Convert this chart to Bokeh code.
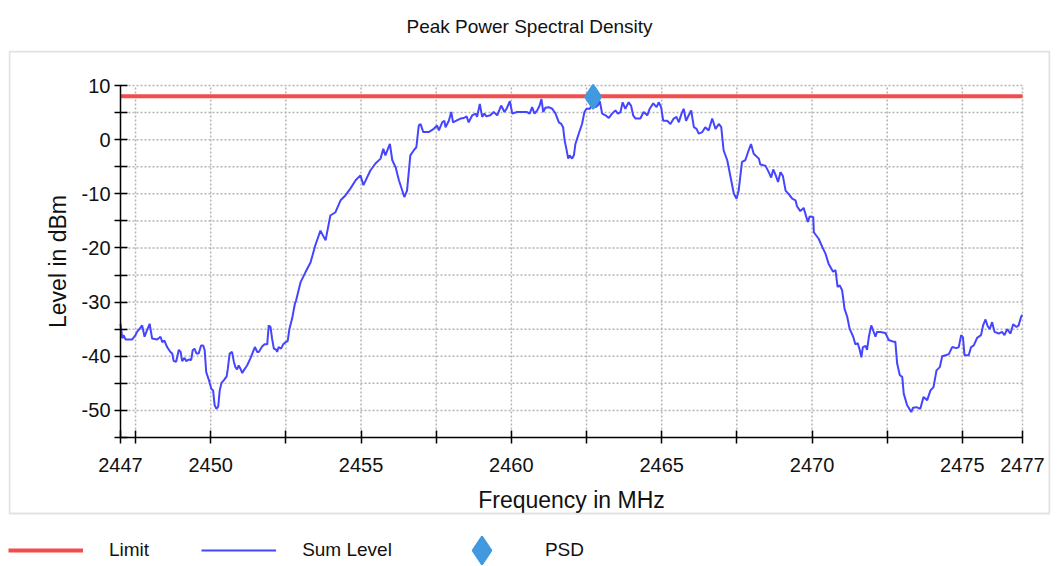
from bokeh.plotting import figure
from bokeh.models import Range1d, FixedTicker, Legend, LegendItem, BoxAnnotation
from bokeh.embed import file_html
from bokeh.resources import INLINE

# ---------------- data ----------------
freq_mhz = [
    2447.00, 2447.06, 2447.10, 2447.17, 2447.39, 2447.50, 2447.55, 2447.64, 2447.72, 2447.80,
    2447.86, 2447.97, 2448.05, 2448.22, 2448.33, 2448.39, 2448.46, 2448.55, 2448.66, 2448.72,
    2448.77, 2448.85, 2448.94, 2449.00, 2449.05, 2449.13, 2449.19, 2449.27, 2449.35, 2449.40,
    2449.46, 2449.53, 2449.60, 2449.68, 2449.75, 2449.80, 2449.85, 2449.94, 2450.02, 2450.08,
    2450.13, 2450.19, 2450.25, 2450.30, 2450.36, 2450.44, 2450.53, 2450.57, 2450.63, 2450.71,
    2450.77, 2450.82, 2450.88, 2450.93, 2450.99, 2451.05, 2451.10, 2451.21, 2451.32, 2451.47,
    2451.55, 2451.60, 2451.71, 2451.79, 2451.88, 2451.93, 2451.99, 2452.04, 2452.10, 2452.18,
    2452.21, 2452.26, 2452.34, 2452.41, 2452.49, 2452.56, 2452.62, 2452.71, 2452.80, 2452.84,
    2452.99, 2453.15, 2453.32, 2453.48, 2453.65, 2453.82, 2453.98, 2454.15, 2454.32, 2454.48,
    2454.65, 2454.82, 2454.98, 2455.08, 2455.31, 2455.48,
    2455.65, 2455.74, 2455.81, 2455.96, 2456.04, 2456.15, 2456.26, 2456.44, 2456.53, 2456.64,
    2456.75, 2456.84, 2456.92, 2456.98, 2457.07, 2457.25, 2457.42, 2457.53, 2457.59, 2457.70,
    2457.77, 2457.81, 2457.92, 2458.00, 2458.06, 2458.17, 2458.31, 2458.42, 2458.51, 2458.58,
    2458.70, 2458.81, 2458.86, 2458.95, 2459.03, 2459.10, 2459.17, 2459.30, 2459.41, 2459.53,
    2459.66, 2459.77, 2459.84, 2459.95, 2460.03, 2460.19, 2460.36, 2460.52, 2460.61, 2460.69,
    2460.77, 2460.86, 2460.94, 2461.00, 2461.06, 2461.13, 2461.24, 2461.36, 2461.47, 2461.58,
    2461.66, 2461.72, 2461.77, 2461.83, 2461.89, 2461.94, 2462.02, 2462.08, 2462.13, 2462.24,
    2462.35, 2462.43, 2462.50, 2462.61, 2462.69, 2462.80, 2462.87, 2462.94, 2463.02, 2463.13,
    2463.24, 2463.35, 2463.46, 2463.54, 2463.63, 2463.70, 2463.79, 2463.90, 2463.98, 2464.05,
    2464.13, 2464.29, 2464.40, 2464.52, 2464.60, 2464.72, 2464.83, 2464.90, 2464.98, 2465.05,
    2465.18, 2465.29, 2465.40, 2465.49, 2465.57, 2465.66, 2465.73, 2465.81, 2465.90, 2465.98,
    2466.07, 2466.16, 2466.23, 2466.35, 2466.45, 2466.56, 2466.68, 2466.79, 2466.90, 2466.98,
    2467.06, 2467.18, 2467.29, 2467.40, 2467.49, 2467.56, 2467.67, 2467.78, 2467.89, 2467.97,
    2468.06, 2468.23, 2468.28, 2468.45, 2468.56, 2468.64, 2468.71, 2468.78, 2468.87, 2468.95,
    2469.03, 2469.12, 2469.22, 2469.34, 2469.45, 2469.50, 2469.61, 2469.72, 2469.86, 2469.92,
    2470.04, 2470.06, 2470.22, 2470.34, 2470.45, 2470.55, 2470.70, 2470.78, 2470.85, 2470.92,
    2471.00, 2471.08, 2471.17, 2471.25, 2471.37, 2471.44, 2471.52, 2471.59, 2471.64, 2471.69,
    2471.78, 2471.83, 2471.89, 2471.97, 2472.03, 2472.11, 2472.16, 2472.27, 2472.44, 2472.55,
    2472.70, 2472.77, 2472.83, 2472.92, 2473.00, 2473.05, 2473.16, 2473.30, 2473.36, 2473.47,
    2473.60, 2473.71, 2473.83, 2473.94, 2474.04, 2474.14, 2474.25, 2474.33, 2474.44, 2474.55,
    2474.66, 2474.80, 2474.88, 2474.96, 2475.02, 2475.07, 2475.21, 2475.29, 2475.38, 2475.49,
    2475.62, 2475.69, 2475.77, 2475.84, 2475.91, 2475.99, 2476.07, 2476.21, 2476.32, 2476.40,
    2476.49, 2476.60, 2476.69, 2476.80, 2476.87, 2476.96, 2477.00,
]
sum_level_dbm = [
    -34.0, -36.7, -36.1, -36.9, -36.9, -36.1, -35.5, -34.9, -34.3, -36.4,
    -35.5, -34.0, -36.7, -36.9, -36.4, -37.4, -37.1, -38.3, -39.2, -39.5,
    -40.9, -41.0, -38.8, -39.2, -40.9, -40.3, -40.9, -40.6, -40.7, -38.9,
    -38.6, -39.5, -39.5, -38.0, -38.0, -38.9, -42.9, -44.4, -46.0, -46.3,
    -49.0, -49.7, -49.3, -46.3, -44.9, -44.4, -43.7, -42.3, -39.5, -39.2,
    -41.0, -42.0, -42.4, -41.7, -42.3, -43.1, -42.6, -41.7, -40.4, -38.3,
    -39.2, -39.2, -38.2, -37.8, -37.8, -34.3, -34.6, -36.7, -38.6, -38.8,
    -39.2, -38.3, -38.6, -37.8, -37.4, -37.2, -34.9, -33.0, -30.3, -29.7,
    -26.3, -24.5, -22.7, -19.5, -16.8, -18.6, -14.0, -13.4, -11.2, -10.3,
    -9.0, -7.5, -6.6, -8.4, -5.7, -4.4,
    -3.5, -1.7, -2.9, -0.8, -3.8, -5.1, -7.5, -10.6, -9.4, -2.9,
    -2.0, -1.4, 2.6, 2.9, 1.4, 1.4, 2.0, 2.6, 1.7, 3.2,
    3.5, 2.3, 3.5, 5.1, 3.2, 3.5, 3.9, 4.0, 4.3, 3.2,
    4.5, 4.8, 4.2, 6.6, 4.2, 4.8, 4.3, 4.5, 5.1, 4.5,
    6.3, 5.1, 5.7, 7.1, 4.8, 5.1, 5.1, 5.1, 4.8, 6.0,
    4.8, 5.4, 6.3, 7.5, 5.1, 5.9, 6.0, 5.7, 4.8, 3.2,
    2.9, 2.3, -0.1, -1.7, -3.5, -2.9, -3.5, -2.9, -0.8, 1.1,
    2.9, 5.1, 5.7, 5.7, 6.6, 6.0, 6.3, 7.1, 4.8, 4.5,
    4.0, 4.8, 5.4, 4.8, 5.1, 6.9, 5.7, 6.9, 6.3, 4.5,
    3.9, 3.9, 5.1, 4.5, 5.7, 6.7, 6.0, 6.9, 6.0, 3.5,
    3.5, 2.9, 3.9, 4.2, 3.2, 4.8, 5.7, 3.5, 4.5, 5.4,
    2.3, 2.0, 1.1, 1.4, 2.3, 1.7, 3.9, 2.0, 2.9, 2.3,
    -2.0, -3.8, -6.9, -10.0, -10.9, -9.4, -4.1, -3.8, -2.0, -0.8,
    -2.6, -3.5, -4.6, -4.8, -6.0, -7.0, -5.5, -6.4, -7.8, -6.0,
    -6.7, -9.4, -10.0, -10.9, -11.2, -12.3, -13.2, -12.6, -15.2, -14.2,
    -14.3, -17.1, -18.3, -19.8, -21.1, -22.9, -24.4, -24.1, -27.2, -26.9,
    -27.8, -31.2, -32.7, -34.9, -36.4, -37.8, -37.6, -38.9, -40.2, -38.3,
    -38.1, -38.8, -36.4, -34.3, -35.2, -36.4, -35.5, -35.5, -35.7, -37.0,
    -37.3, -37.3, -41.3, -43.5, -43.8, -46.9, -49.0, -50.3, -49.5, -49.4,
    -49.7, -47.5, -48.1, -46.3, -45.7, -42.6, -42.0, -40.0, -39.8, -39.6,
    -38.3, -38.5, -38.3, -36.1, -36.5, -39.8, -39.8, -38.3, -38.0, -36.6,
    -36.1, -34.3, -33.2, -34.4, -35.0, -33.7, -35.5, -35.8, -35.5, -36.1,
    -35.0, -35.8, -34.1, -34.6, -34.3, -32.6, -32.4,
]
limit_freq = [2447.0, 2477.0]
limit_dbm = [8.0, 8.0]
psd_freq = [2462.72]
psd_dbm = [7.9]

x_ticks = [2447, 2447.5, 2450, 2452.5, 2455, 2457.5, 2460, 2462.5, 2465,
           2467.5, 2470, 2472.5, 2475, 2477]
x_tick_labels = ["2447", "", "2450", "", "2455", "", "2460", "", "2465",
                 "", "2470", "", "2475", "2477"]
y_ticks = [-55, -50, -45, -40, -35, -30, -25, -20, -15, -10, -5, 0, 5, 10]
y_tick_labels = ["", "-50", "", "-40", "", "-30", "", "-20", "", "-10", "", "0", "", "10"]
x_min, x_max = 2447, 2477
y_min, y_max = -55, 10

title_text = "Peak Power Spectral Density"
x_title = "Frequency in MHz"
y_title = "Level in dBm"

# ---------------- layout / styles ----------------
FONT = "Liberation Sans"
RED = "#f44b4b"
BLUE = "#4545ff"
DIAMOND = "#4199e0"
GRID = "#b4b4b4"
TXT = "#111111"

FRAME_W, FRAME_H = 1042, 516          # panel + legend strip below it
PAD_L, PAD_R = 112, 28                # frame edge -> data area (px)
PAD_T, PAD_B = 35, 129
kx = (x_max - x_min) / (FRAME_W - PAD_L - PAD_R)
ky = (y_max - y_min) / (FRAME_H - PAD_T - PAD_B)

p = figure(
    output_backend="svg", toolbar_location=None,
    frame_width=FRAME_W, frame_height=FRAME_H,
    min_border_left=8, min_border_right=8, min_border_top=50, min_border_bottom=0,
    x_range=Range1d(x_min - PAD_L * kx, x_max + PAD_R * kx),
    y_range=Range1d(y_min - PAD_B * ky, y_max + PAD_T * ky),
    background_fill_color="white", border_fill_color="white",
)
p.outline_line_color = None
p.xgrid.visible = False
p.ygrid.visible = False

# grey panel border (canvas pixels)
p.add_layout(BoxAnnotation(left=9, right=1049, top=51, bottom=513,
                           left_units="canvas", right_units="canvas",
                           top_units="canvas", bottom_units="canvas",
                           fill_alpha=0, line_color="#a0a0a0", line_width=2))

# title
p.title.text = title_text
p.title.text_font = FONT
p.title.text_font_size = "19px"
p.title.text_font_style = "normal"
p.title.text_color = TXT
p.title.align = "center"
p.title.vertical_align = "bottom"
p.title.standoff = 27

# axes (drawn inside the bordered panel)
p.xaxis.fixed_location = y_min
p.xaxis.bounds = (x_min, x_max)
p.yaxis.fixed_location = x_min
p.yaxis.bounds = (y_min, y_max)
for ax in (p.xaxis[0], p.yaxis[0]):
    ax.axis_line_color = "black"
    ax.axis_line_width = 1.5
    ax.major_tick_line_color = "black"
    ax.major_tick_line_width = 1.5
    ax.major_tick_in = 7
    ax.major_tick_out = 6
    ax.minor_tick_line_color = None
    ax.major_label_text_font = FONT
    ax.major_label_text_font_size = "20px"
    ax.major_label_text_color = TXT
    ax.axis_label_text_font = FONT
    ax.axis_label_text_font_size = "23px"
    ax.axis_label_text_font_style = "normal"
    ax.axis_label_text_color = TXT

p.xaxis.ticker = FixedTicker(ticks=x_ticks)
p.xaxis.major_label_overrides = {t: s for t, s in zip(x_ticks, x_tick_labels)}
p.yaxis.ticker = FixedTicker(ticks=y_ticks)
p.yaxis.major_label_overrides = {t: s for t, s in zip(y_ticks, y_tick_labels)}
p.xaxis.axis_label = x_title
p.yaxis.axis_label = y_title
p.xaxis.major_label_standoff = 14
p.yaxis.major_label_standoff = 4
p.xaxis.axis_label_standoff = 12
p.yaxis.axis_label_standoff = 8

# dotted grid at the tick positions, limited to the data area
gx = [t for t in x_ticks if t != x_min]
gy = [t for t in y_ticks if t != y_min]
p.segment(x0=gx, y0=[y_min] * len(gx), x1=gx, y1=[y_max] * len(gx),
          line_color=GRID, line_dash="2 2", line_width=1.5)
p.segment(x0=[x_min] * len(gy), y0=gy, x1=[x_max] * len(gy), y1=gy,
          line_color=GRID, line_dash="2 2", line_width=1.5)

# glyphs
r_sum = p.line(freq_mhz, sum_level_dbm, line_color=BLUE, line_width=2)
r_lim = p.line(limit_freq, limit_dbm, line_color=RED, line_width=4)
r_psd = p.scatter(psd_freq, psd_dbm, marker="diamond", size=24,
                  fill_color=DIAMOND, line_color=DIAMOND, line_width=2)

legend = Legend(
    items=[LegendItem(label="Limit", renderers=[r_lim]),
           LegendItem(label="Sum Level", renderers=[r_sum]),
           LegendItem(label="PSD", renderers=[r_psd])],
    location=(0, -19), orientation="horizontal",
    glyph_width=75, glyph_height=70, label_standoff=26, spacing=52,
    label_text_font=FONT, label_text_font_size="19px",
    label_text_color=TXT, label_height=20,
    padding=0, margin=0,
    border_line_color=None, background_fill_alpha=0,
)
p.add_layout(legend, "center")

open("out.html", "w").write(file_html(p, INLINE))
